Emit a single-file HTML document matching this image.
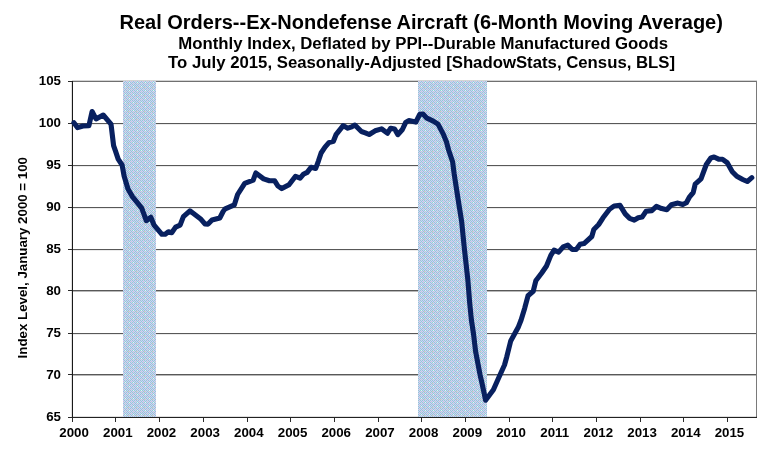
<!DOCTYPE html>
<html lang="en"><head><meta charset="utf-8"><title>Real Orders--Ex-Nondefense Aircraft</title>
<style>html,body{margin:0;padding:0;background:#fff;overflow:hidden}svg{display:block}</style></head>
<body>
<svg width="781" height="461" viewBox="0 0 781 461">
<defs>
<pattern id="dither" x="0" y="0" width="8" height="8" patternUnits="userSpaceOnUse" shape-rendering="crispEdges">
<rect width="8" height="8" fill="#ccccff"/>
<path d="M0,0h1v1h-1zM2,0h1v1h-1zM4,0h1v1h-1zM6,0h1v1h-1zM1,1h1v1h-1zM5,1h1v1h-1zM0,2h1v1h-1zM2,2h1v1h-1zM4,2h1v1h-1zM6,2h1v1h-1zM3,3h1v1h-1zM7,3h1v1h-1zM0,4h1v1h-1zM2,4h1v1h-1zM4,4h1v1h-1zM6,4h1v1h-1zM1,5h1v1h-1zM5,5h1v1h-1zM7,5h1v1h-1zM0,6h1v1h-1zM2,6h1v1h-1zM4,6h1v1h-1zM6,6h1v1h-1zM3,7h1v1h-1zM7,7h1v1h-1z" fill="#99cccc"/>
<path d="M3,5h1v1h-1zM1,7h1v1h-1zM5,7h1v1h-1zM3,1h1v1h-1zM7,1h1v1h-1zM1,3h1v1h-1zM5,3h1v1h-1zM0,7h1v1h-1z" fill="#cccccc"/>
<path d="M5,6h1v1h-1zM1,2h1v1h-1z" fill="#ccffff"/>
</pattern>
</defs>
<rect width="781" height="461" fill="#fff"/>
<g shape-rendering="crispEdges">
<rect x="73" y="123" width="684" height="1" fill="#585858"/>
<rect x="73" y="124" width="684" height="1" fill="#000" fill-opacity="0.08"/>
<rect x="73" y="165" width="684" height="1" fill="#585858"/>
<rect x="73" y="166" width="684" height="1" fill="#000" fill-opacity="0.08"/>
<rect x="73" y="207" width="684" height="1" fill="#585858"/>
<rect x="73" y="208" width="684" height="1" fill="#000" fill-opacity="0.08"/>
<rect x="73" y="249" width="684" height="1" fill="#585858"/>
<rect x="73" y="250" width="684" height="1" fill="#000" fill-opacity="0.08"/>
<rect x="73" y="290" width="684" height="1" fill="#585858"/>
<rect x="73" y="291" width="684" height="1" fill="#000" fill-opacity="0.28"/>
<rect x="73" y="333" width="684" height="1" fill="#585858"/>
<rect x="73" y="334" width="684" height="1" fill="#000" fill-opacity="0.08"/>
<rect x="73" y="374" width="684" height="1" fill="#585858"/>
<rect x="73" y="375" width="684" height="1" fill="#000" fill-opacity="0.28"/>
<rect x="72" y="80" width="685" height="1" fill="#d4d4d4"/>
<rect x="72" y="81" width="685" height="1" fill="#707070"/>
<rect x="756" y="81" width="1" height="337" fill="#7a7a7a"/>
<rect x="72" y="416" width="685" height="1" fill="#000" fill-opacity="0.12"/>
<rect x="123" y="81" width="33" height="336" fill="url(#dither)"/>
<rect x="418" y="81" width="69" height="336" fill="url(#dither)"/>
<rect x="72" y="81" width="1" height="337" fill="#1a1a1a"/>
<rect x="71" y="81" width="1" height="337" fill="#000" fill-opacity="0.12"/>
<rect x="72" y="417" width="685" height="1" fill="#222"/>
<rect x="68" y="81" width="4" height="1" fill="#2a2a2a"/>
<rect x="68" y="123" width="4" height="1" fill="#2a2a2a"/>
<rect x="68" y="165" width="4" height="1" fill="#2a2a2a"/>
<rect x="68" y="207" width="4" height="1" fill="#2a2a2a"/>
<rect x="68" y="249" width="4" height="1" fill="#2a2a2a"/>
<rect x="68" y="290" width="4" height="1" fill="#2a2a2a"/>
<rect x="68" y="333" width="4" height="1" fill="#2a2a2a"/>
<rect x="68" y="374" width="4" height="1" fill="#2a2a2a"/>
<rect x="68" y="417" width="4" height="1" fill="#2a2a2a"/>
<rect x="72" y="418" width="1" height="4" fill="#2a2a2a"/>
<rect x="115" y="418" width="1" height="4" fill="#2a2a2a"/>
<rect x="159" y="418" width="1" height="4" fill="#2a2a2a"/>
<rect x="203" y="418" width="1" height="4" fill="#2a2a2a"/>
<rect x="247" y="418" width="1" height="4" fill="#2a2a2a"/>
<rect x="290" y="418" width="1" height="4" fill="#2a2a2a"/>
<rect x="334" y="418" width="1" height="4" fill="#2a2a2a"/>
<rect x="378" y="418" width="1" height="4" fill="#2a2a2a"/>
<rect x="421" y="418" width="1" height="4" fill="#2a2a2a"/>
<rect x="465" y="418" width="1" height="4" fill="#2a2a2a"/>
<rect x="509" y="418" width="1" height="4" fill="#2a2a2a"/>
<rect x="552" y="418" width="1" height="4" fill="#2a2a2a"/>
<rect x="596" y="418" width="1" height="4" fill="#2a2a2a"/>
<rect x="640" y="418" width="1" height="4" fill="#2a2a2a"/>
<rect x="683" y="418" width="1" height="4" fill="#2a2a2a"/>
<rect x="727" y="418" width="1" height="4" fill="#2a2a2a"/>
</g>
<path d="M73.9,122.8 L77.6,127.6 L83.0,126.0 L88.9,125.8 L92.1,111.5 L96.0,118.9 L103.2,115.0 L111.0,124.1 L113.6,145.6 L115.6,151.3 L118.2,159.1 L122.1,165.0 L124.1,176.0 L128.0,189.0 L132.6,196.9 L136.5,201.7 L141.7,208.2 L146.3,220.6 L150.8,217.3 L154.1,225.2 L161.9,234.3 L165.2,234.3 L168.4,231.7 L171.7,232.7 L175.6,227.1 L180.1,225.2 L183.4,216.7 L189.9,210.8 L201.0,219.3 L204.9,223.9 L208.1,224.1 L212.0,220.0 L219.8,218.0 L223.1,211.5 L225.2,208.8 L234.3,204.9 L237.6,194.5 L244.7,183.4 L253.2,180.2 L255.8,173.0 L263.6,178.9 L269.5,180.8 L274.7,180.8 L277.9,186.0 L281.8,188.6 L289.0,184.7 L295.5,176.3 L300.1,178.2 L303.3,174.3 L307.2,172.4 L311.1,167.2 L315.7,168.5 L318.5,160.8 L321.1,153.0 L325.0,147.1 L328.9,142.6 L333.4,141.3 L336.0,134.7 L343.2,125.6 L347.8,128.2 L351.7,126.9 L354.9,125.0 L361.4,131.5 L365.3,132.8 L369.2,134.5 L375.1,130.8 L381.6,128.9 L387.5,133.2 L390.7,128.2 L394.6,128.9 L397.9,134.7 L402.4,129.5 L405.7,122.4 L408.7,120.6 L415.8,122.1 L419.7,114.3 L423.0,114.1 L426.9,118.2 L432.8,120.8 L438.0,124.1 L443.2,133.9 L446.4,141.7 L448.6,150.0 L452.6,161.7 L454.1,173.4 L456.5,189.0 L459.4,207.5 L461.7,221.9 L464.3,248.0 L466.2,265.0 L467.8,279.5 L469.7,303.0 L471.4,320.0 L473.6,334.5 L475.6,351.5 L480.1,375.0 L481.7,381.9 L485.6,400.2 L493.4,389.7 L498.6,378.0 L504.5,365.0 L506.8,356.7 L510.7,341.0 L518.5,326.7 L521.1,320.0 L524.7,308.2 L528.0,295.8 L533.2,291.3 L535.8,280.8 L541.7,273.0 L546.5,266.0 L550.8,255.4 L554.1,250.2 L558.6,252.1 L563.2,246.9 L567.8,245.2 L572.3,249.5 L576.2,249.5 L580.1,244.3 L584.0,243.6 L591.8,236.5 L593.8,229.5 L598.7,224.5 L603.0,217.8 L609.5,209.3 L614.1,206.0 L620.0,205.4 L625.2,213.9 L629.7,218.4 L634.3,220.1 L638.2,217.8 L642.1,217.1 L646.0,211.3 L651.8,210.6 L656.4,206.4 L661.6,208.6 L666.8,209.7 L671.4,204.7 L677.9,203.1 L682.8,204.5 L686.4,202.8 L689.6,196.8 L693.2,192.5 L695.2,184.1 L701.0,178.9 L706.3,164.5 L710.8,158.0 L714.1,157.0 L718.6,159.1 L722.5,159.3 L727.1,162.6 L732.3,171.7 L736.8,176.3 L742.7,179.5 L747.3,181.5 L751.8,177.6" fill="none" stroke="#08205f" stroke-width="5.1" stroke-linejoin="round" stroke-linecap="round"/>
<g font-family="'Liberation Sans', Arial, sans-serif" font-weight="bold" fill="#000">
<text x="421.2" y="28.6" font-size="20" text-anchor="middle">Real Orders--Ex-Nondefense Aircraft (6-Month Moving Average)</text>
<text x="423.2" y="48.6" font-size="16" text-anchor="middle" textLength="489.8" lengthAdjust="spacingAndGlyphs">Monthly Index, Deflated by PPI--Durable Manufactured Goods</text>
<text x="421.6" y="67.5" font-size="16" text-anchor="middle" textLength="507" lengthAdjust="spacingAndGlyphs">To July 2015, Seasonally-Adjusted [ShadowStats, Census, BLS]</text>
<text x="61" y="85.40" font-size="13.3" text-anchor="end">105</text>
<text x="61" y="127.35" font-size="13.3" text-anchor="end">100</text>
<text x="61" y="169.30" font-size="13.3" text-anchor="end">95</text>
<text x="61" y="211.25" font-size="13.3" text-anchor="end">90</text>
<text x="61" y="253.20" font-size="13.3" text-anchor="end">85</text>
<text x="61" y="295.15" font-size="13.3" text-anchor="end">80</text>
<text x="61" y="337.10" font-size="13.3" text-anchor="end">75</text>
<text x="61" y="379.05" font-size="13.3" text-anchor="end">70</text>
<text x="61" y="421.00" font-size="13.3" text-anchor="end">65</text>
<text x="74.10" y="436.9" font-size="13.3" text-anchor="middle">2000</text>
<text x="117.79" y="436.9" font-size="13.3" text-anchor="middle">2001</text>
<text x="161.48" y="436.9" font-size="13.3" text-anchor="middle">2002</text>
<text x="205.17" y="436.9" font-size="13.3" text-anchor="middle">2003</text>
<text x="248.86" y="436.9" font-size="13.3" text-anchor="middle">2004</text>
<text x="292.55" y="436.9" font-size="13.3" text-anchor="middle">2005</text>
<text x="336.24" y="436.9" font-size="13.3" text-anchor="middle">2006</text>
<text x="379.93" y="436.9" font-size="13.3" text-anchor="middle">2007</text>
<text x="423.62" y="436.9" font-size="13.3" text-anchor="middle">2008</text>
<text x="467.31" y="436.9" font-size="13.3" text-anchor="middle">2009</text>
<text x="511.00" y="436.9" font-size="13.3" text-anchor="middle">2010</text>
<text x="554.69" y="436.9" font-size="13.3" text-anchor="middle">2011</text>
<text x="598.38" y="436.9" font-size="13.3" text-anchor="middle">2012</text>
<text x="642.07" y="436.9" font-size="13.3" text-anchor="middle">2013</text>
<text x="685.76" y="436.9" font-size="13.3" text-anchor="middle">2014</text>
<text x="729.45" y="436.9" font-size="13.3" text-anchor="middle">2015</text>
<text transform="translate(27,257.7) rotate(-90)" font-size="13.3" text-anchor="middle">Index Level, January 2000 = 100</text>
</g>
</svg>
</body></html>
